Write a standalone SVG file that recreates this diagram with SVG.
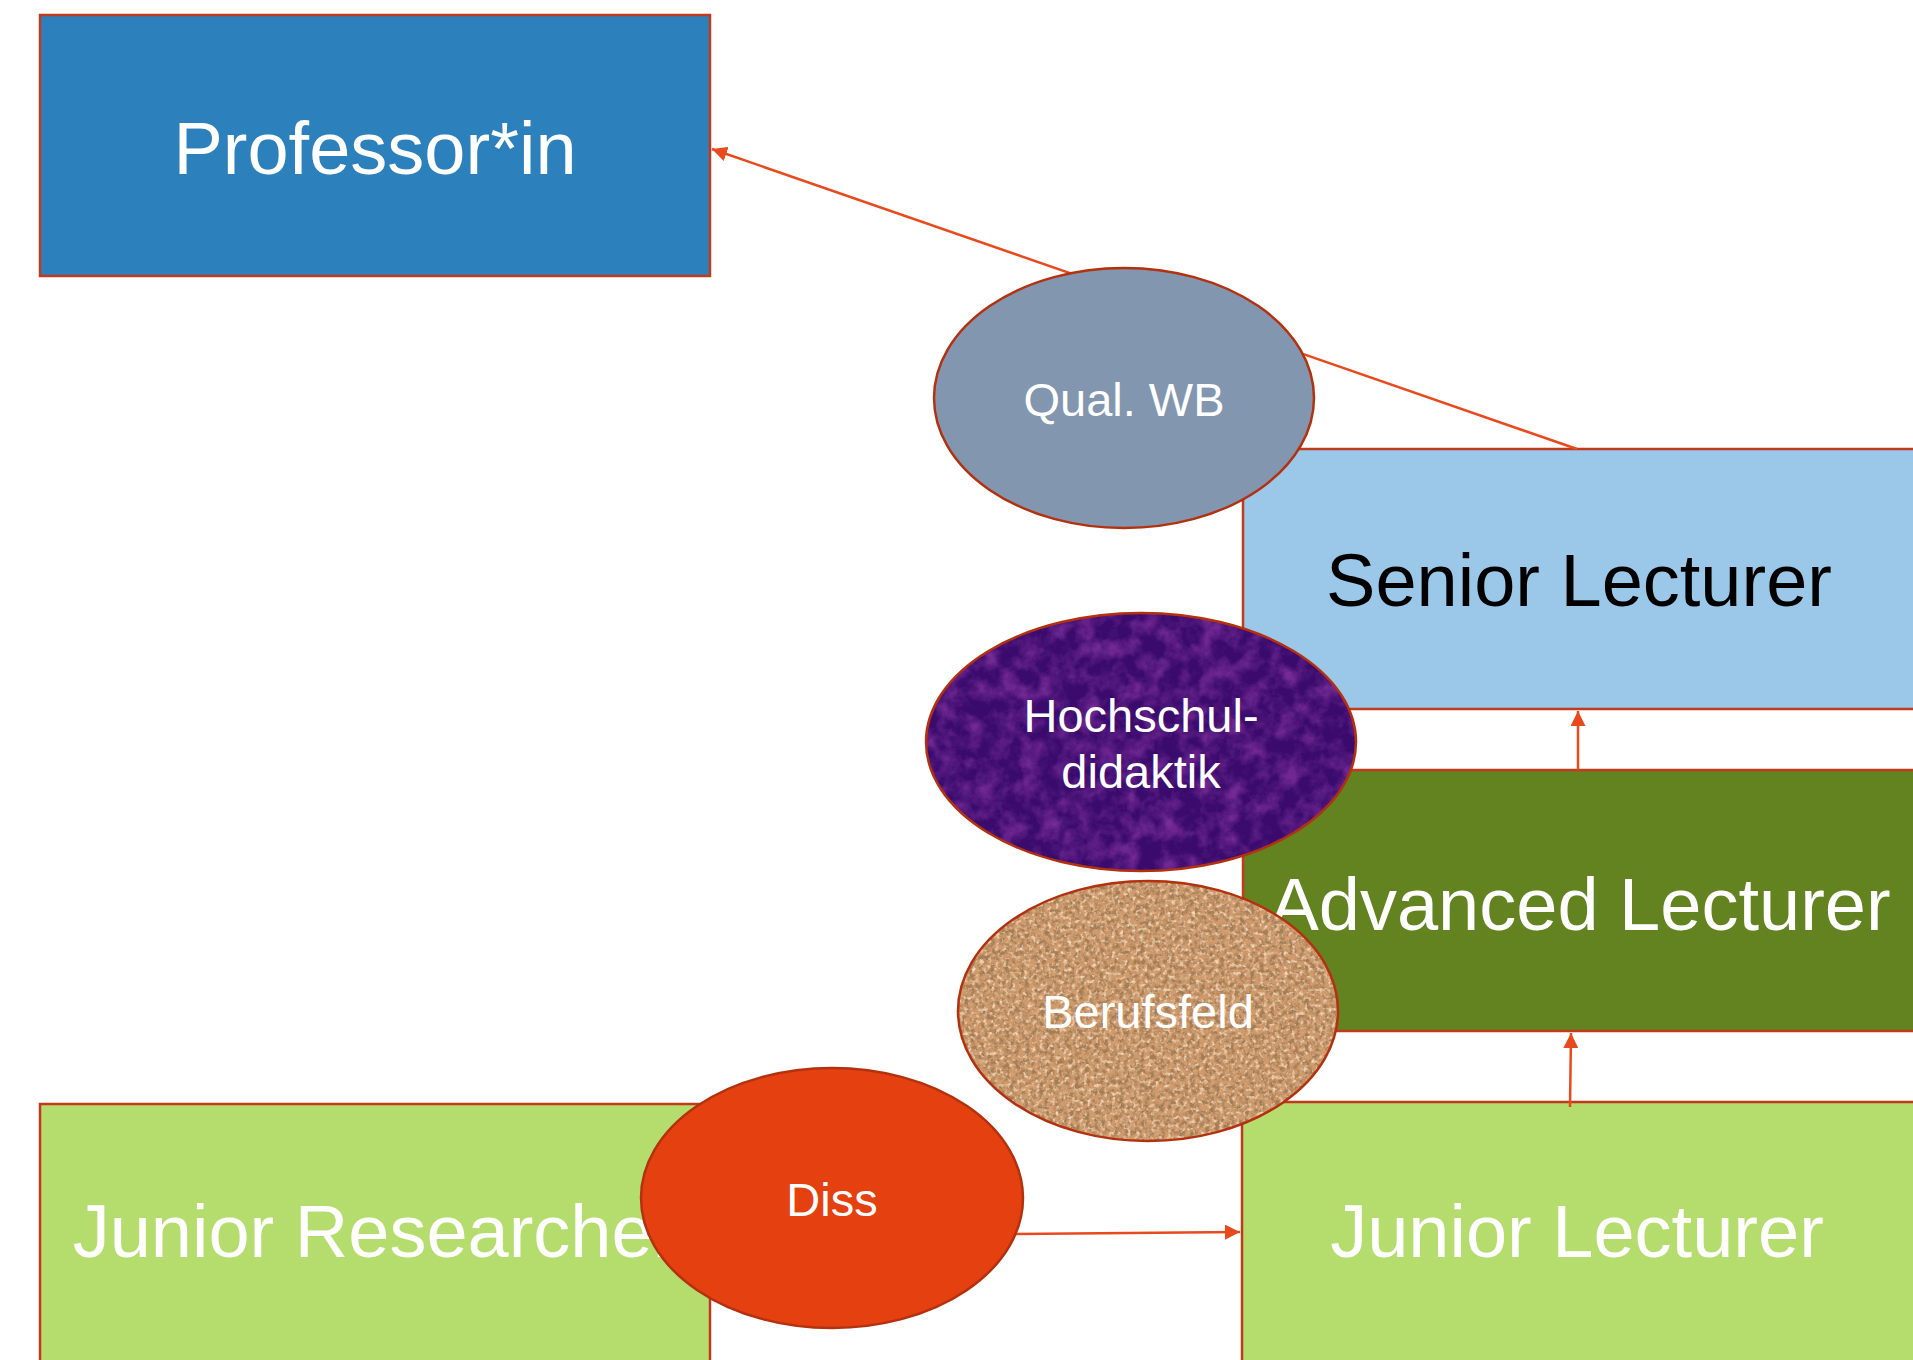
<svg xmlns="http://www.w3.org/2000/svg" width="1913" height="1360" viewBox="0 0 1913 1360">
<style>
.box{stroke:#c23a1c;stroke-width:2.5}
.ell{stroke:#b3310f;stroke-width:2.5}
.t{font-family:"Liberation Sans",Arial,sans-serif;text-anchor:middle}
.big{font-size:74px}
.sm{font-size:47px}
.w{fill:#ffffff}
.k{fill:#000000}
.con{stroke:#e8491d;stroke-width:2.5;fill:none}
</style>
<defs>
<marker id="arrL" viewBox="0 0 10 10" refX="10" refY="5" markerWidth="15" markerHeight="15" markerUnits="userSpaceOnUse" orient="auto">
<path d="M0,0 L10,5 L0,10 z" fill="#e8491d"/>
</marker>
<filter id="cork" x="0" y="0" width="1" height="1">
<feTurbulence type="fractalNoise" baseFrequency="0.2" numOctaves="3" seed="4" result="n"/>
<feColorMatrix in="n" type="matrix" values="0 0 0 0 0.36  0 0 0 0 0.2  0 0 0 0 0.09  3.6 0 0 0 -1.5" result="c"/>
<feComposite in="c" in2="SourceAlpha" operator="in"/>
</filter>
<filter id="corkL" x="0" y="0" width="1" height="1">
<feTurbulence type="fractalNoise" baseFrequency="0.25" numOctaves="2" seed="9" result="n"/>
<feColorMatrix in="n" type="matrix" values="0 0 0 0 0.92  0 0 0 0 0.7  0 0 0 0 0.5  0 3 0 0 -1.5" result="c"/>
<feComposite in="c" in2="SourceAlpha" operator="in"/>
</filter>
<filter id="felt" x="0" y="0" width="1" height="1">
<feTurbulence type="fractalNoise" baseFrequency="0.05" numOctaves="4" seed="2" result="n"/>
<feColorMatrix in="n" type="matrix" values="0 0 0 0 0.16  0 0 0 0 0.02  0 0 0 0 0.28  2.5 0 0 0 -1.0" result="c"/>
<feComposite in="c" in2="SourceAlpha" operator="in"/>
</filter>
<filter id="feltL" x="0" y="0" width="1" height="1">
<feTurbulence type="fractalNoise" baseFrequency="0.07" numOctaves="3" seed="7" result="n"/>
<feColorMatrix in="n" type="matrix" values="0 0 0 0 0.36  0 0 0 0 0.08  0 0 0 0 0.58  0 2 0 0 -1.0" result="c"/>
<feComposite in="c" in2="SourceAlpha" operator="in"/>
</filter>
</defs>
<rect width="1913" height="1360" fill="#ffffff"/>

<g id="professor">
<rect class="box" x="40" y="15" width="670" height="261" fill="#2c80bc"/>
<text class="t big w" x="375" y="174">Professor*in</text>
</g>
<g id="senior-lecturer">
<rect class="box" x="1243" y="449" width="680" height="260" fill="#9bc8e8"/>
<text class="t big k" x="1579" y="606">Senior Lecturer</text>
</g>
<g id="advanced-lecturer">
<rect class="box" x="1243" y="770" width="680" height="261" fill="#638220"/>
<text class="t big w" x="1580" y="930">Advanced Lecturer</text>
</g>
<g id="junior-lecturer">
<rect class="box" x="1242" y="1102" width="680" height="270" fill="#b5dd6e"/>
<text class="t big w" x="1577" y="1257">Junior Lecturer</text>
</g>
<g id="junior-researcher">
<rect class="box" x="40" y="1104" width="670" height="270" fill="#b5dd6e"/>
<text class="t big w" x="375" y="1257">Junior Researcher</text>
</g>

<g id="connectors">
<line class="con" x1="1577" y1="449" x2="712" y2="149" marker-end="url(#arrL)"/>
<line class="con" x1="1578" y1="770" x2="1578" y2="711" marker-end="url(#arrL)"/>
<line class="con" x1="1570" y1="1107" x2="1571" y2="1033" marker-end="url(#arrL)"/>
<line class="con" x1="1015" y1="1234" x2="1240" y2="1232" marker-end="url(#arrL)"/>
</g>

<g id="qual-wb">
<ellipse class="ell" cx="1124" cy="398" rx="190" ry="130" fill="#8296b0"/>
<text class="t sm w" x="1124" y="416">Qual. WB</text>
</g>
<g id="hochschuldidaktik">
<ellipse cx="1141" cy="742" rx="215" ry="129" fill="#3a0b6c"/>
<ellipse cx="1141" cy="742" rx="215" ry="129" fill="#000" filter="url(#felt)"/>
<ellipse cx="1141" cy="742" rx="215" ry="129" fill="#000" filter="url(#feltL)" opacity="0.25"/>
<ellipse class="ell" cx="1141" cy="742" rx="215" ry="129" fill="none"/>
<text class="t sm w" x="1141" y="732">Hochschul-</text>
<text class="t sm w" x="1141" y="788">didaktik</text>
</g>
<g id="berufsfeld">
<ellipse cx="1148" cy="1011" rx="190" ry="130" fill="#cf9a6c"/>
<ellipse cx="1148" cy="1011" rx="190" ry="130" fill="#000" filter="url(#cork)"/>
<ellipse cx="1148" cy="1011" rx="190" ry="130" fill="#000" filter="url(#corkL)"/>
<ellipse class="ell" cx="1148" cy="1011" rx="190" ry="130" fill="none"/>
<text class="t sm w" x="1148" y="1028">Berufsfeld</text>
</g>
<g id="diss">
<ellipse class="ell" cx="832" cy="1198" rx="191" ry="130" fill="#e5400f"/>
<text class="t sm w" x="832" y="1216">Diss</text>
</g>
</svg>
